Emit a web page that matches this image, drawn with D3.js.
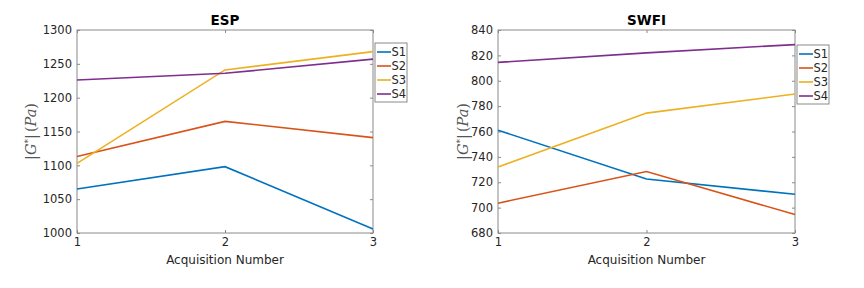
<!DOCTYPE html>
<html><head><meta charset="utf-8">
<script src="https://cdn.jsdelivr.net/npm/d3@7"></script>
<style>body{margin:0;background:#fff}svg{display:block}text{font-family:"DejaVu Sans",sans-serif}</style>
</head><body>
<svg id="c" width="864" height="288"></svg>
<script>
const acquisitions = [1, 2, 3];
const seriesNames = ["S1", "S2", "S3", "S4"];
const colors = ["#0072BD", "#D95319", "#EDB120", "#7E2F8E"];

const espS1 = [1065, 1098, 1006];
const espS2 = [1113, 1165, 1141];
const espS3 = [1103, 1241, 1268];
const espS4 = [1226, 1236, 1257];
const espTicks = [1000, 1050, 1100, 1150, 1200, 1250, 1300];

const swfiS1 = [761, 722.5, 710.5];
const swfiS2 = [703.5, 728.5, 694.5];
const swfiS3 = [732, 774.5, 789.5];
const swfiS4 = [814.5, 822, 828.5];
const swfiTicks = [680, 700, 720, 740, 760, 780, 800, 820, 840];

const panels = [
  {title: "ESP", series: [espS1, espS2, espS3, espS4], ticks: espTicks, domain: [1000, 1300],
   x0: 77, x1: 373, y0: 30, y1: 233, legX: 375, legY: 43, ylabX: 36},
  {title: "SWFI", series: [swfiS1, swfiS2, swfiS3, swfiS4], ticks: swfiTicks, domain: [680, 840],
   x0: 498, x1: 795, y0: 30, y1: 233, legX: 797, legY: 45, ylabX: 468}
];

const svg = d3.select("#c");
const axisCol = "#8a8a8a", textCol = "#262626";

panels.forEach(p => {
  const g = svg.append("g");
  const x = d3.scaleLinear().domain([1, 3]).range([p.x0, p.x1]);
  const y = d3.scaleLinear().domain(p.domain).range([p.y1, p.y0]);

  g.append("rect").attr("x", p.x0).attr("y", p.y0).attr("width", p.x1 - p.x0).attr("height", p.y1 - p.y0)
    .attr("fill", "none").attr("stroke", axisCol).attr("stroke-width", 1);

  const styleAxis = sel => {
    sel.select(".domain").remove();
    sel.selectAll("line").attr("stroke", axisCol);
    sel.selectAll("text").attr("fill", textCol).style("font-size", "11.5px").style("font-family", "DejaVu Sans, sans-serif");
  };
  const xa = g.append("g").attr("transform", `translate(0,${p.y1})`)
    .call(d3.axisBottom(x).tickValues(acquisitions).tickSize(-3).tickPadding(5).tickFormat(d3.format("d")));
  styleAxis(xa);
  const xt = g.append("g").attr("transform", `translate(0,${p.y0})`)
    .call(d3.axisTop(x).tickValues(acquisitions).tickSize(-3).tickFormat(""));
  styleAxis(xt);
  const ya = g.append("g").attr("transform", `translate(${p.x0},0)`)
    .call(d3.axisLeft(y).tickValues(p.ticks).tickSize(-3).tickPadding(5).tickFormat(d3.format("d")));
  styleAxis(ya);
  const yr = g.append("g").attr("transform", `translate(${p.x1},0)`)
    .call(d3.axisRight(y).tickValues(p.ticks).tickSize(-3).tickFormat(""));
  styleAxis(yr);

  const line = d3.line().x((d, i) => x(acquisitions[i])).y(d => y(d));
  p.series.forEach((s, i) => {
    g.append("path").datum(s).attr("d", line).attr("fill", "none")
      .attr("stroke", colors[i]).attr("stroke-width", 1.6);
  });

  g.append("text").attr("x", (p.x0 + p.x1) / 2).attr("y", 25).attr("text-anchor", "middle")
    .style("font-size", "13.5px").style("font-weight", "bold").attr("fill", "#000").text(p.title);
  g.append("text").attr("x", (p.x0 + p.x1) / 2).attr("y", 264).attr("text-anchor", "middle")
    .style("font-size", "12px").attr("fill", textCol).text("Acquisition Number");
  const yl = g.append("text").attr("transform", `translate(${p.ylabX},${(p.y0 + p.y1) / 2}) rotate(-90)`)
    .attr("text-anchor", "middle").attr("fill", "#555")
    .style("font-family", "DejaVu Serif, serif").style("font-size", "14.5px");
  yl.append("tspan").text("|");
  yl.append("tspan").style("font-style", "italic").text("G");
  yl.append("tspan").attr("dy", -5).style("font-size", "9px").text("*");
  yl.append("tspan").attr("dy", 5).text("|");
  yl.append("tspan").attr("dx", 2).text("(");
  yl.append("tspan").style("font-style", "italic").text("Pa");
  yl.append("tspan").text(")");

  const lg = g.append("g").attr("transform", `translate(${p.legX},${p.legY})`);
  lg.append("rect").attr("width", 32).attr("height", 59).attr("fill", "#fff").attr("stroke", axisCol);
  seriesNames.forEach((n, i) => {
    const yy = 9 + i * 14;
    lg.append("line").attr("x1", 2).attr("x2", 16).attr("y1", yy).attr("y2", yy)
      .attr("stroke", colors[i]).attr("stroke-width", 1.6);
    lg.append("text").attr("x", 16.5).attr("y", yy + 4).style("font-size", "11.5px").attr("fill", textCol).text(n);
  });
});
</script>
</body></html>
